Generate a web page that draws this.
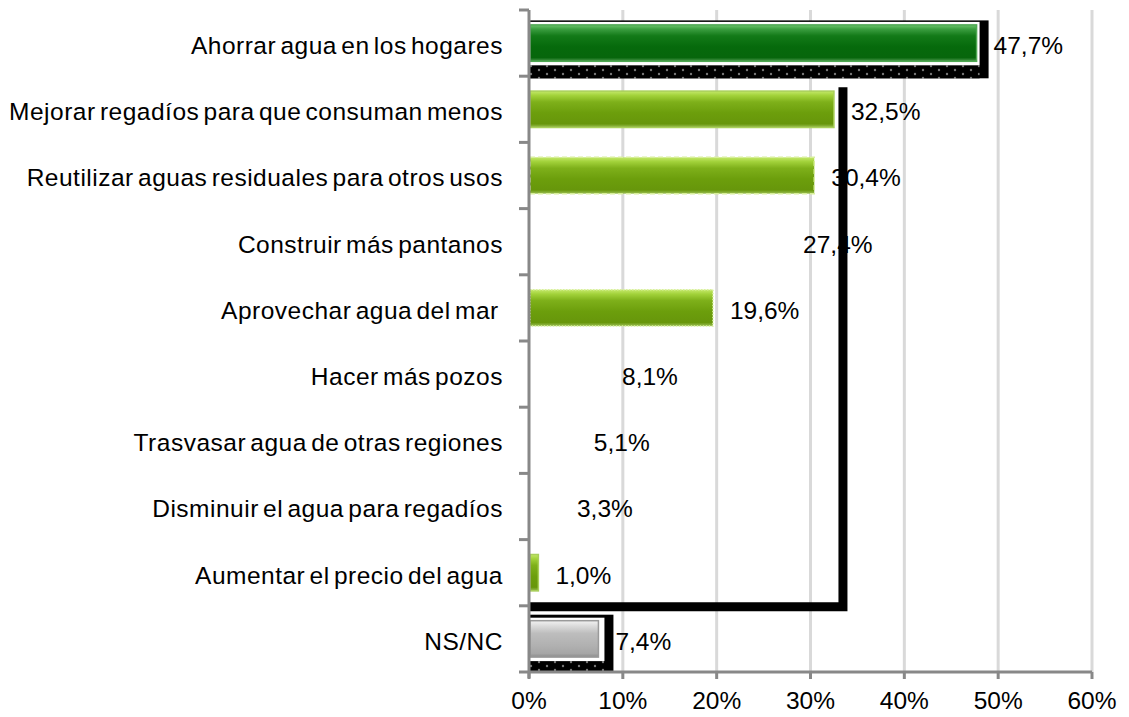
<!DOCTYPE html>
<html>
  <body style="margin:0;background:#fff">
    <style>
      text {
        font-family: 'Liberation Sans', Arial, sans-serif;
        fill: #000;
        white-space: pre;
      }
    </style>
    <div class="chart"></div>
    <script src="https://d3js.org/d3.v7.min.js"></script>
    <script type="text/javascript">
      const categories = [
        'Ahorrar agua en los hogares',
        'Mejorar regadíos para que consuman menos',
        'Reutilizar aguas residuales para otros usos',
        'Construir más pantanos',
        'Aprovechar agua del mar ',
        'Hacer más pozos',
        'Trasvasar agua de otras regiones',
        'Disminuir el agua para regadíos',
        'Aumentar el precio del agua',
        'NS/NC',
      ];
      const values = [47.7, 32.5, 30.4, 27.4, 19.6, 8.1, 5.1, 3.3, 1.0, 7.4];
      const xTicks = [0, 10, 20, 30, 40, 50, 60];

      const width = 1129;
      const height = 717;
      const margin = { top: 10, right: 37, bottom: 45, left: 529 };
      const fontSize = 24.5;

      // how each bar is painted (by position); null = bar not shown
      const barPaint = ['dark', 'light', 'lightDash', null, 'lightDot', null, null, null, 'light', 'grey'];

      const svg = d3
        .select('.chart')
        .append('svg')
        .attr('width', width)
        .attr('height', height);

      const defs = svg.append('defs');
      function grad(id, stops) {
        const g = defs
          .append('linearGradient')
          .attr('id', id)
          .attr('x1', 0)
          .attr('y1', 0)
          .attr('x2', 0)
          .attr('y2', 1);
        stops.forEach((s) => g.append('stop').attr('offset', s[0]).attr('stop-color', s[1]));
      }
      grad('gDark', [[0, '#6cc46c'], [0.12, '#3a9d3f'], [0.3, '#137a18'], [0.6, '#066a0c'], [0.9, '#07660c'], [1, '#4c9a4e']]);
      grad('gLight', [[0, '#c4e86a'], [0.12, '#a2d23a'], [0.3, '#7eb01a'], [0.6, '#6c9e0c'], [0.9, '#67960b'], [1, '#9cc055']]);
      grad('gGrey', [[0, '#f2f2f2'], [0.15, '#dadada'], [0.35, '#bdbdbd'], [0.7, '#b0b0b0'], [0.9, '#a6a6a6'], [1, '#8c8c8c']]);

      const dots = defs
        .append('pattern')
        .attr('id', 'dots')
        .attr('patternUnits', 'userSpaceOnUse')
        .attr('width', 16)
        .attr('height', 8);
      dots.append('rect').attr('width', 16).attr('height', 8).attr('fill', '#000');
      dots.append('circle').attr('cx', 3).attr('cy', 2).attr('r', 1.2).attr('fill', '#777');
      dots.append('circle').attr('cx', 11).attr('cy', 6).attr('r', 1.2).attr('fill', '#777');

      const x = d3
        .scaleLinear()
        .domain([0, 60])
        .range([margin.left, width - margin.right]);
      const y = d3
        .scaleBand()
        .domain(categories)
        .range([margin.top, height - margin.bottom])
        .paddingInner(0.45)
        .paddingOuter(0.225);

      const bottom = height - margin.bottom;
      const step = y.step();
      const gap = (step * y.paddingInner()) / 2;

      // gridlines
      svg
        .append('g')
        .selectAll('line')
        .data(xTicks.slice(1))
        .enter()
        .append('line')
        .attr('x1', (d) => x(d))
        .attr('x2', (d) => x(d))
        .attr('y1', margin.top)
        .attr('y2', bottom)
        .attr('stroke', '#d9d9d9')
        .attr('stroke-width', 3);

      // black outline frame behind a bar (solid top/right, dotted bottom band)
      function frame(i, topH, rightPad, inPad, bandH) {
        const c = categories[i];
        const x0 = x(0);
        const x1 = x(values[i]) + rightPad;
        const y0 = y(c) - topH - 3;
        const y1 = y(c) + y.bandwidth() + bandH;
        svg.append('rect').attr('x', x0).attr('y', y0).attr('width', x1 - x0).attr('height', y1 - y0).attr('fill', '#000');
        svg
          .append('rect')
          .attr('x', x0)
          .attr('y', y1 - bandH + 4)
          .attr('width', x1 - x0 - (rightPad - inPad))
          .attr('height', bandH - 4)
          .attr('fill', 'url(#dots)');
        svg
          .append('rect')
          .attr('x', x0)
          .attr('y', y0 + topH)
          .attr('width', x1 - x0 - (rightPad - inPad))
          .attr('height', y1 - bandH + 4 - (y0 + topH))
          .attr('fill', '#fff');
      }
      frame(0, 1.5, 12, 3, 17);
      frame(9, 3, 15, 6, 15);

      // big L-shaped outline
      const lx = x(values[1]) + 9;
      const lTop = y(categories[1]) - gap + 11;
      const lBot = y(categories[8]) + y.bandwidth() + gap + 1;
      const lPath = `M${lx},${lTop} V${lBot} H${x(0)}`;

      // bars
      const fills = {
        dark: ['url(#gDark)', '#4fa853', null],
        light: ['url(#gLight)', '#a9cf5a', null],
        lightDash: ['url(#gLight)', '#d8ef9c', '5,3'],
        lightDot: ['url(#gLight)', '#d8ef9c', '1.5,1.5'],
        grey: ['url(#gGrey)', '#9a9a9a', null],
      };
      const rows = categories.map((c, i) => ({ c, v: values[i], p: barPaint[i] }));

      svg
        .append('g')
        .selectAll('rect')
        .data(rows.filter((d) => d.p))
        .enter()
        .append('rect')
        .attr('x', x(0) + 1)
        .attr('y', (d) => y(d.c))
        .attr('width', (d) => x(d.v) - x(0) - 1)
        .attr('height', y.bandwidth())
        .attr('fill', (d) => fills[d.p][0])
        .attr('stroke', (d) => fills[d.p][1])
        .attr('stroke-width', 1.5)
        .attr('stroke-dasharray', (d) => fills[d.p][2]);

      // value labels
      const fmt = (v) => d3.format('.1f')(v).replace('.', ',') + '%';
      svg
        .append('g')
        .selectAll('text')
        .data(rows)
        .enter()
        .append('text')
        .attr('x', (d) => x(d.v) + 17)
        .attr('y', (d) => y(d.c) + y.bandwidth() / 2 + 2)
        .attr('dy', '0.36em')
        .attr('font-size', fontSize)
        .text((d) => fmt(d.v));

      // the L covers some labels in the original
      svg
        .append('path')
        .attr('d', lPath)
        .attr('fill', 'none')
        .attr('stroke', '#000')
        .attr('stroke-width', 9);

      // y axis
      const yAxisG = svg.append('g');
      yAxisG
        .append('line')
        .attr('x1', x(0))
        .attr('x2', x(0))
        .attr('y1', margin.top)
        .attr('y2', bottom + 6)
        .attr('stroke', '#888')
        .attr('stroke-width', 3);
      const bounds = categories.map((c) => y(c) - gap);
      yAxisG
        .selectAll('line.tick')
        .data(bounds)
        .enter()
        .append('line')
        .attr('class', 'tick')
        .attr('x1', x(0) - 10)
        .attr('x2', x(0))
        .attr('y1', (d) => d)
        .attr('y2', (d) => d)
        .attr('stroke', '#888')
        .attr('stroke-width', 3);
      yAxisG
        .selectAll('text')
        .data(categories)
        .enter()
        .append('text')
        .attr('x', x(0) - 26)
        .attr('y', (d) => y(d) + y.bandwidth() / 2 + 2)
        .attr('dy', '0.36em')
        .attr('text-anchor', 'end')
        .attr('font-size', fontSize)
        .attr('word-spacing', -3)
        .attr('letter-spacing', 0.5)
        .text((d) => d);

      // x axis
      const xAxisG = svg.append('g');
      xAxisG
        .append('line')
        .attr('x1', x(0) - 10)
        .attr('x2', x(60))
        .attr('y1', bottom)
        .attr('y2', bottom)
        .attr('stroke', '#888')
        .attr('stroke-width', 3);
      xAxisG
        .selectAll('line.tick')
        .data(xTicks)
        .enter()
        .append('line')
        .attr('class', 'tick')
        .attr('x1', (d) => x(d))
        .attr('x2', (d) => x(d))
        .attr('y1', bottom)
        .attr('y2', bottom + 7)
        .attr('stroke', '#888')
        .attr('stroke-width', 3);
      xAxisG
        .selectAll('text')
        .data(xTicks)
        .enter()
        .append('text')
        .attr('x', (d) => x(d))
        .attr('y', bottom + 28)
        .attr('dy', '0.36em')
        .attr('text-anchor', 'middle')
        .attr('font-size', fontSize)
        .text((d) => d + '%');
    </script>
  </body>
</html>
